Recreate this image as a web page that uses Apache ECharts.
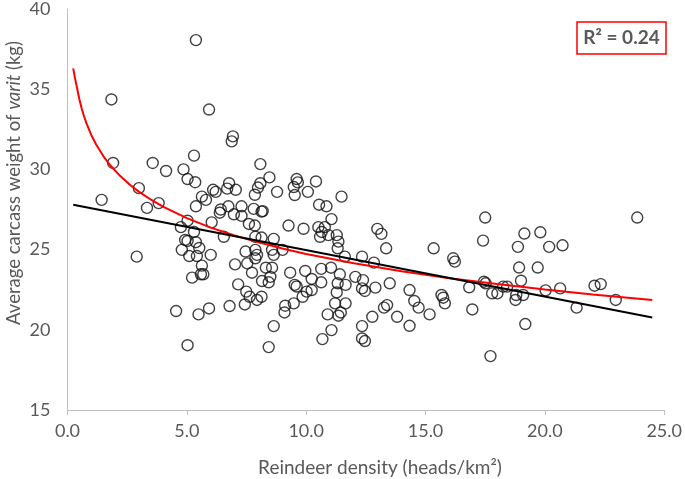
<!DOCTYPE html>
<html>
<head>
<meta charset="utf-8">
<script src="https://cdn.jsdelivr.net/npm/echarts@6/dist/echarts.min.js"></script>
<style>
  html, body { margin: 0; padding: 0; background: #fff; }
  #chart { width: 685px; height: 479px; }
</style>
</head>
<body>
<div id="chart"></div>
<script>
// reindeer density (heads/km2) vs average carcass weight (kg)
let density = [
  5.38, 1.84, 5.93, 1.91, 3.57, 5.30, 4.13, 4.86,
  1.43, 2.99, 3.33, 3.82, 2.90, 5.03, 5.35, 5.63, 5.80, 5.38, 5.03, 4.75,
  5.30, 4.93, 5.03, 5.38, 4.79, 5.52, 5.10, 5.42, 5.63, 5.22, 5.59, 5.69,
  4.55, 5.49, 5.93, 5.03,
  6.93, 6.88, 8.08, 8.46, 8.08, 7.98, 7.85, 6.77, 6.69, 7.05, 6.10, 6.21,
  8.78, 9.60, 9.65, 9.48, 9.52, 10.07, 10.41, 11.48, 10.54, 10.85, 6.74, 7.29,
  6.42, 6.38, 6.97, 7.29, 7.80, 8.13, 8.18, 6.04, 7.60, 7.85, 9.26, 9.89,
  11.06, 10.51, 10.65, 10.78, 10.58, 10.93, 11.28, 11.35, 11.32, 6.55, 7.87, 8.13, 8.64,
  7.46, 7.87, 7.94, 8.57, 8.64, 9.01, 6.00, 7.02, 7.53, 7.87, 7.73, 8.31, 8.57,
  9.33, 9.96, 10.23, 10.63, 8.50, 8.15, 8.43, 7.15, 9.52, 9.60, 10.63, 11.04,
  11.41, 11.32, 11.65, 11.28, 11.62, 12.34, 12.06, 12.38, 12.34, 12.46, 10.02, 10.23,
  9.85, 7.49, 7.63, 7.94, 8.13, 7.43, 6.79, 9.48, 9.12, 9.09, 11.21, 11.65,
  10.90, 11.35, 11.45, 8.64, 11.06, 10.68, 8.43, 12.34, 12.34, 12.46,
  17.50, 17.41, 12.98, 13.15, 13.35, 12.84, 15.34, 16.16, 16.23, 12.90, 13.50,
  14.33, 14.53, 14.71, 15.67, 15.74, 15.81, 16.83, 17.45, 17.52, 17.79, 18.01,
  18.25, 18.42, 18.77, 13.26, 13.39, 13.81, 15.17, 16.96, 12.77, 14.33, 17.72,
  23.87, 19.14, 19.81, 18.87, 20.18, 20.74, 18.92, 19.70, 19.00, 18.80, 19.09,
  20.03, 20.64, 22.08, 22.34, 21.33, 22.97, 19.18
];
let weight = [
  38.06, 34.36, 33.73, 30.40, 30.40, 30.86, 29.90, 30.00,
  28.10, 28.83, 27.60, 27.90, 24.56, 29.40, 29.20, 28.30, 28.10, 27.70, 26.80, 26.40,
  26.10, 25.60, 25.54, 25.46, 24.98, 25.10, 24.60, 24.60, 24.00, 23.25, 23.46, 23.46,
  21.17, 20.96, 21.33, 19.04,
  32.06, 31.75, 30.33, 29.50, 29.14, 28.87, 28.42, 29.14, 28.80, 28.73, 28.73, 28.60,
  28.60, 29.40, 29.19, 28.90, 28.40, 28.60, 29.25, 28.30, 27.80, 27.70, 27.70, 27.70,
  27.50, 27.30, 27.20, 27.10, 27.54, 27.37, 27.40, 26.70, 26.60, 26.50, 26.50, 26.30,
  26.90, 26.40, 26.10, 26.40, 25.80, 25.90, 25.90, 25.50, 25.08, 25.80, 25.80, 25.75, 25.67,
  24.88, 24.98, 24.67, 24.98, 24.67, 24.98, 24.67, 24.08, 24.14, 24.46, 23.56, 23.87, 23.87,
  23.56, 23.67, 23.17, 23.80, 23.30, 23.04, 22.96, 22.83, 22.80, 22.70, 22.96, 23.87,
  23.46, 22.90, 22.80, 22.33, 24.56, 24.56, 23.30, 23.10, 22.58, 22.42, 22.38, 22.48,
  22.06, 22.38, 22.06, 21.86, 22.06, 21.58, 21.48, 21.65, 21.50, 21.08, 21.65, 21.65,
  20.96, 20.88, 21.08, 20.23, 19.98, 19.42, 18.92, 20.23, 19.46, 19.30,
  27.00, 25.56, 26.29, 25.98, 25.08, 24.19, 25.08, 24.46, 24.25, 22.63, 22.90,
  22.48, 21.80, 21.38, 22.17, 22.00, 21.65, 22.65, 23.00, 22.90, 22.27, 22.27,
  22.69, 22.69, 21.86, 21.38, 21.54, 20.81, 20.96, 21.27, 20.81, 20.25, 18.36,
  27.00, 26.00, 26.08, 25.17, 25.17, 25.27, 23.88, 23.88, 23.06, 22.17, 22.17,
  22.46, 22.58, 22.75, 22.85, 21.38, 21.86, 20.36
];

// trendlines as drawn in the figure (log fit in red, linear fit in black)
let logFitX = [0.24, 0.3, 0.4, 0.5, 0.6, 0.7, 0.8, 1.0, 1.2, 1.5, 1.8, 2.2, 2.6, 3, 3.5, 4,
  5, 6, 7, 8, 9, 10, 12, 14, 16, 18, 20, 22, 24.5];
let logFitY = [36.3, 35.8, 35.07, 34.36, 33.77, 33.28, 32.85, 32.13, 31.55, 30.83, 30.24, 29.6,
  29.06, 28.6, 28.11, 27.68, 26.96, 26.37, 25.88, 25.45, 25.07, 24.73, 24.15, 23.65, 23.22,
  22.85, 22.51, 22.2, 21.86];
let linFitX = [0.24, 24.5];
let linFitY = [27.8, 20.77];

let xTicks = [0, 5, 10, 15, 20, 25];
let yTicks = [15, 20, 25, 30, 35, 40];

const zip = (a, b) => a.map((v, i) => [v, b[i]]);

let myChart = echarts.init(document.getElementById('chart'));
let font = 'Lato, "Open Sans", sans-serif';
let gray = '#595959';

let option = {
  animation: false,
  backgroundColor: '#fff',
  grid: {
    left: 67.5,
    right: 17,
    top: 7,
    bottom: 69
  },
  xAxis: {
    type: 'value',
    min: xTicks[0],
    max: xTicks[xTicks.length - 1],
    interval: 5,
    axisLine: { show: true, lineStyle: { color: '#bfbfbf', width: 1 } },
    axisTick: { show: true, length: 5, lineStyle: { color: '#bfbfbf' } },
    splitLine: { show: false },
    axisLabel: {
      color: gray,
      fontFamily: font,
      fontSize: 18,
      margin: 12,
      formatter: v => v.toFixed(1)
    }
  },
  yAxis: {
    type: 'value',
    min: yTicks[0],
    max: yTicks[yTicks.length - 1],
    interval: 5,
    axisLine: { show: true, lineStyle: { color: '#bfbfbf', width: 1 } },
    axisTick: { show: false },
    splitLine: { show: false },
    axisLabel: {
      color: gray,
      fontFamily: font,
      fontSize: 18,
      margin: 17
    }
  },
  series: [
    {
      type: 'scatter',
      data: zip(density, weight),
      symbol: 'circle',
      symbolSize: 11,
      itemStyle: {
        color: 'rgba(255,255,255,0)',
        borderColor: '#111',
        borderWidth: 1.4
      },
      z: 2
    },
    {
      type: 'line',
      data: zip(logFitX, logFitY),
      smooth: false,
      showSymbol: false,
      lineStyle: { color: '#ff0000', width: 2 },
      z: 3
    },
    {
      type: 'line',
      data: zip(linFitX, linFitY),
      showSymbol: false,
      lineStyle: { color: '#000', width: 2 },
      z: 4
    }
  ],
  graphic: [
    {
      type: 'text',
      x: 14,
      y: 183,
      rotation: Math.PI / 2,
      style: {
        text: '{n|Average carcass weight of }{i|varit}{n| (kg)}',
        align: 'center',
        verticalAlign: 'middle',
        rich: {
          n: { fontFamily: font, fontSize: 18.5, fill: gray },
          i: { fontFamily: font, fontSize: 18.5, fill: gray, fontStyle: 'italic' }
        }
      }
    },
    {
      type: 'text',
      x: 380,
      y: 468,
      style: {
        text: 'Reindeer density (heads/km²)',
        fontFamily: font,
        fontSize: 19,
        fill: gray,
        align: 'center',
        verticalAlign: 'middle'
      }
    },
    {
      type: 'rect',
      shape: { x: 577, y: 22, width: 89, height: 32 },
      style: { fill: '#fff', stroke: '#ff0000', lineWidth: 1.5 }
    },
    {
      type: 'text',
      x: 621.5,
      y: 38,
      style: {
        text: 'R² = 0.24',
        fontFamily: font,
        fontSize: 19,
        fontWeight: 'bold',
        fill: gray,
        align: 'center',
        verticalAlign: 'middle'
      }
    }
  ]
};

myChart.setOption(option);
</script>
</body>
</html>
